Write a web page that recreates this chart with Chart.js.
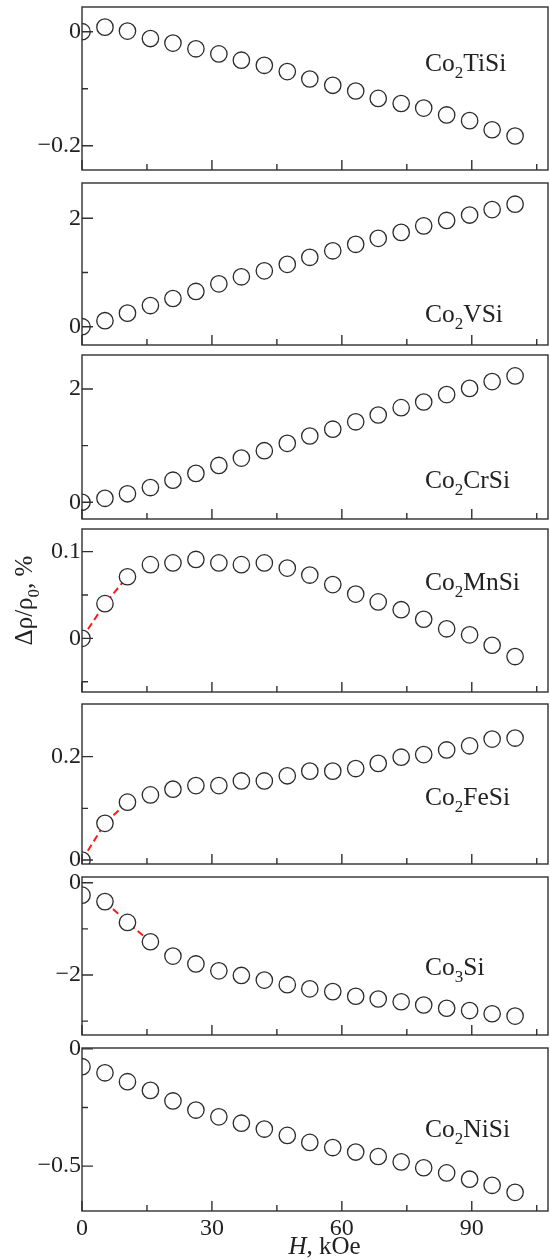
<!DOCTYPE html>
<html><head><meta charset="utf-8">
<script src="https://cdn.jsdelivr.net/npm/chart.js@4.4.1/dist/chart.umd.min.js"></script>
<style>
html,body{margin:0;padding:0;background:#fff;}
#wrap{position:relative;width:550px;height:1259px;overflow:hidden;background:#fff;}
#wrap canvas{position:absolute;left:0;top:0;}
</style></head><body><div id="wrap"></div>
<script>
// ---- data ----
const fieldH = [0, 5.3, 10.5, 15.8, 21, 26.3, 31.6, 36.8, 42.1, 47.4, 52.6, 57.9, 63.2, 68.4, 73.7, 78.9, 84.2, 89.5, 94.7, 100];
const co2TiSi = [0, 0.008, 0.001, -0.012, -0.020, -0.030, -0.039, -0.050, -0.059, -0.070, -0.083, -0.094, -0.104, -0.117, -0.126, -0.134, -0.146, -0.156, -0.172, -0.183];
const co2VSi  = [0, 0.11, 0.25, 0.39, 0.52, 0.65, 0.79, 0.92, 1.03, 1.15, 1.28, 1.40, 1.52, 1.63, 1.74, 1.86, 1.96, 2.06, 2.16, 2.26];
const co2CrSi = [0, 0.07, 0.15, 0.26, 0.39, 0.51, 0.65, 0.78, 0.91, 1.04, 1.17, 1.29, 1.42, 1.54, 1.67, 1.77, 1.90, 2.01, 2.13, 2.23];
const co2MnSi = [0, 0.040, 0.071, 0.085, 0.087, 0.091, 0.087, 0.085, 0.087, 0.081, 0.073, 0.062, 0.051, 0.042, 0.033, 0.022, 0.011, 0.004, -0.008, -0.021];
const co2FeSi = [0, 0.071, 0.112, 0.126, 0.137, 0.144, 0.144, 0.153, 0.153, 0.163, 0.172, 0.172, 0.177, 0.187, 0.199, 0.204, 0.213, 0.221, 0.234, 0.236];
const co3Si   = [-0.27, -0.41, -0.86, -1.28, -1.59, -1.76, -1.91, -2.01, -2.11, -2.21, -2.30, -2.36, -2.46, -2.52, -2.58, -2.65, -2.72, -2.77, -2.84, -2.89];
const co2NiSi = [-0.076, -0.102, -0.140, -0.177, -0.222, -0.261, -0.290, -0.317, -0.342, -0.369, -0.399, -0.421, -0.440, -0.459, -0.482, -0.507, -0.529, -0.556, -0.582, -0.612];

// index ranges joined by the red dashed line
const redMn = [0, 2];
const redFe = [0, 2];
const redCo3 = [1, 3];

// tick values and labels
const xTicks = [0, 15, 30, 45, 60, 75, 90, 105];
const xTickLabels = ['0', '', '30', '', '60', '', '90', ''];
const yTicksTi = [-0.2, -0.1, 0];        const yLabelsTi = ['\u22120.2', '', '0'];
const yTicksV  = [0, 1, 2];              const yLabelsV  = ['0', '', '2'];
const yTicksCr = [0, 1, 2];              const yLabelsCr = ['0', '', '2'];
const yTicksMn = [-0.05, 0, 0.05, 0.1];  const yLabelsMn = ['', '0', '', '0.1'];
const yTicksFe = [0, 0.1, 0.2];          const yLabelsFe = ['0', '', '0.2'];
const yTicksCo3 = [-3, -2, -1, 0];       const yLabelsCo3 = ['', '\u22122', '', '0'];
const yTicksNi = [-0.5, -0.25, 0];       const yLabelsNi = ['\u22120.5', '', '0'];

const FONT = '"Liberation Serif", "Times New Roman", serif';
const INK = '#222';

const panels = [
  {vals: co2TiSi, red: null,   top: 7,    bottom: 170,  min: -0.2426, max: 0.0433, yt: yTicksTi,  yl: yLabelsTi,  name: [['Co',0],['2',1],['TiSi',0]], nx: 79.2, ny: -0.069},
  {vals: co2VSi,  red: null,   top: 183,  bottom: 345,  min: -0.338,  max: 2.651,  yt: yTicksV,   yl: yLabelsV,   name: [['Co',0],['2',1],['VSi',0]],  nx: 79.2, ny: 0.087},
  {vals: co2CrSi, red: null,   top: 355,  bottom: 519,  min: -0.295,  max: 2.599,  yt: yTicksCr,  yl: yLabelsCr,  name: [['Co',0],['2',1],['CrSi',0]], nx: 79.2, ny: 0.252},
  {vals: co2MnSi, red: redMn,  top: 529,  bottom: 692,  min: -0.0619, max: 0.1261, yt: yTicksMn,  yl: yLabelsMn,  name: [['Co',0],['2',1],['MnSi',0]], nx: 79.2, ny: 0.0557, ytitle: true},
  {vals: co2FeSi, red: redFe,  top: 704,  bottom: 864,  min: -0.0077, max: 0.3019, yt: yTicksFe,  yl: yLabelsFe,  name: [['Co',0],['2',1],['FeSi',0]], nx: 79.2, ny: 0.106},
  {vals: co3Si,   red: redCo3, top: 877,  bottom: 1035, min: -3.300,  max: 0.1235, yt: yTicksCo3, yl: yLabelsCo3, name: [['Co',0],['3',1],['Si',0]],   nx: 79.2, ny: -2.0},
  {vals: co2NiSi, red: null,   top: 1048, bottom: 1211, min: -0.6916, max: 0.0038, yt: yTicksNi,  yl: yLabelsNi,  name: [['Co',0],['2',1],['NiSi',0]], nx: 79.2, ny: -0.376, bottomAxis: true}
];

function drawRich(ctx, parts, x, y, size, align) {
  const sub = Math.round(size * 0.68);
  const f = k => (k === 2 ? 'italic ' : '') + (k === 1 ? sub : size) + 'px ' + FONT;
  let total = 0;
  parts.forEach(([t, k]) => { ctx.font = f(k); total += ctx.measureText(t).width; });
  let cx = align === 'center' ? x - total / 2 : x;
  ctx.textAlign = 'left';
  ctx.textBaseline = 'alphabetic';
  parts.forEach(([t, k]) => {
    ctx.font = f(k);
    ctx.fillText(t, cx, y + (k === 1 ? size * 0.28 : 0));
    cx += ctx.measureText(t).width;
  });
}

const framePlugin = {
  id: 'frame',
  afterDatasetsDraw(chart) {
    const P = chart.options.plugins.frame;
    const {ctx, chartArea: a} = chart;
    const x = chart.scales.x, y = chart.scales.y;
    ctx.save();
    ctx.strokeStyle = '#303030';
    ctx.lineWidth = 1.4;
    ctx.strokeRect(a.left, a.top, a.right - a.left, a.bottom - a.top);
    ctx.beginPath();
    y.ticks.forEach((t, i) => {
      const py = y.getPixelForValue(t.value);
      const len = P.yl[i] ? 11 : 6;
      ctx.moveTo(a.left, py); ctx.lineTo(a.left + len, py);
    });
    x.ticks.forEach((t, i) => {
      const px = x.getPixelForValue(t.value);
      const len = xTickLabels[i] ? 10 : 6;
      ctx.moveTo(px, a.bottom); ctx.lineTo(px, a.bottom - len);
    });
    ctx.stroke();
    ctx.fillStyle = INK;
    // compound name
    drawRich(ctx, P.name, x.getPixelForValue(P.nx), y.getPixelForValue(P.ny), 25.5, 'left');
    if (P.ytitle) {
      ctx.save();
      ctx.translate(32, (a.top + a.bottom) / 2 - 10);
      ctx.rotate(-Math.PI / 2);
      drawRich(ctx, [['\u0394\u03c1/\u03c1', 0], ['0', 1], [', %', 0]], 0, 0, 25, 'center');
      ctx.restore();
    }
    if (P.bottomAxis) {
      ctx.font = '24px ' + FONT;
      ctx.textAlign = 'center';
      ctx.textBaseline = 'alphabetic';
      xTicks.forEach((v, i) => {
        if (xTickLabels[i]) ctx.fillText(xTickLabels[i], x.getPixelForValue(v), a.bottom + 24);
      });
      drawRich(ctx, [['H', 2], [', kOe', 0]], x.getPixelForValue(56), 1254, 25, 'center');
    }
    ctx.restore();
  }
};

const wrap = document.getElementById('wrap');
panels.forEach(P => {
  const cv = document.createElement('canvas');
  cv.width = 550; cv.height = 1259;
  cv.style.width = '550px'; cv.style.height = '1259px';
  wrap.appendChild(cv);
  const pts = P.vals.map((v, i) => ({x: fieldH[i], y: v}));
  const datasets = [{
    data: pts,
    pointRadius: 8.2,
    pointHoverRadius: 8.2,
    pointBorderWidth: 1.3,
    pointBorderColor: '#2a2a2a',
    pointBackgroundColor: '#fdfdfd',
    showLine: false,
    clip: 0,
    order: 1
  }];
  if (P.red) {
    datasets.push({
      data: pts.slice(P.red[0], P.red[1] + 1),
      showLine: true,
      borderColor: '#ff1a1a',
      borderWidth: 2,
      borderDash: [7, 4],
      pointRadius: 0,
      fill: false,
      clip: 0,
      order: 2
    });
  }
  new Chart(cv, {
    type: 'scatter',
    data: {datasets},
    plugins: [framePlugin],
    options: {
      responsive: false,
      animation: false,
      devicePixelRatio: 1,
      events: [],
      layout: {autoPadding: false, padding: {top: P.top, bottom: 1259 - P.bottom, left: 0, right: 2}},
      plugins: {legend: {display: false}, tooltip: {enabled: false}, frame: P},
      scales: {
        x: {
          type: 'linear', min: 0, max: 107.6,
          grid: {display: false, drawTicks: false},
          border: {display: false},
          afterBuildTicks: s => { s.ticks = xTicks.map(v => ({value: v})); },
          ticks: {display: false},
          afterFit: s => { s.height = 0; s.paddingLeft = 0; s.paddingRight = 0; }
        },
        y: {
          type: 'linear', min: P.min, max: P.max,
          grid: {display: false, drawTicks: false},
          border: {display: false},
          afterBuildTicks: s => { s.ticks = P.yt.map(v => ({value: v})); },
          ticks: {
            padding: 1, autoSkip: false, color: INK,
            font: {family: FONT, size: 24},
            callback: (v, i) => P.yl[i]
          },
          afterFit: s => { s.width = 82; s.paddingTop = 0; s.paddingBottom = 0; }
        }
      }
    }
  });
});
</script></body></html>
